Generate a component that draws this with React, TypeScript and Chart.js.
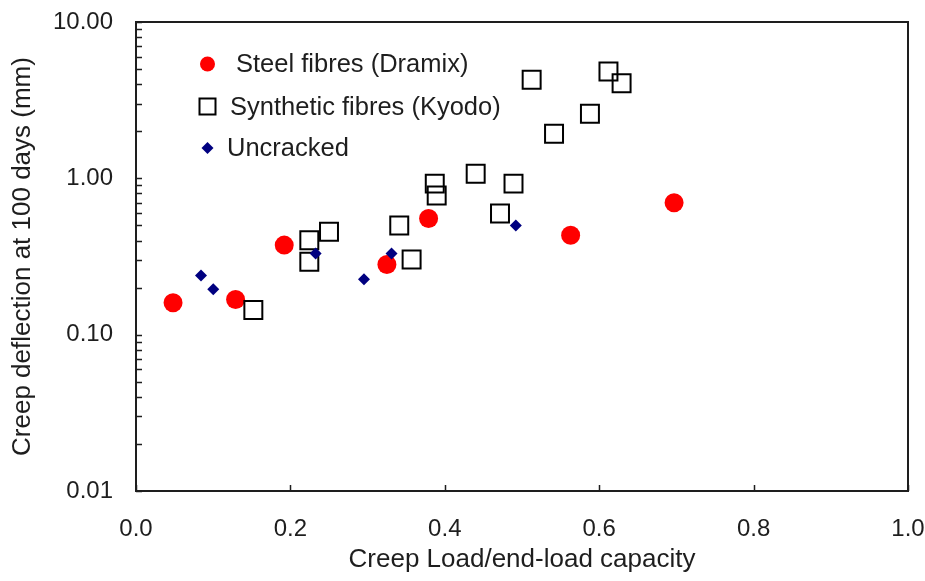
import React, { useEffect, useRef } from "react";
import { Chart, registerables } from "chart.js";

Chart.register(...registerables);

// ---- Data ----
const SERIES_NAMES = ["Steel fibres (Dramix)", "Synthetic fibres (Kyodo)", "Uncracked"];

const STEEL_X = [0.048, 0.129, 0.192, 0.325, 0.379, 0.563, 0.697];
const STEEL_Y = [0.16, 0.168, 0.374, 0.281, 0.553, 0.433, 0.697];

const SYN_X = [0.152, 0.2245, 0.2245, 0.25, 0.341, 0.357, 0.387, 0.3895, 0.44, 0.489, 0.4715, 0.5125, 0.5415, 0.588, 0.612, 0.629];
const SYN_Y = [0.144, 0.402, 0.293, 0.455, 0.499, 0.303, 0.925, 0.776, 1.07, 0.925, 0.595, 4.27, 1.93, 2.59, 4.82, 4.06];

const UNC_X = [0.0842, 0.1001, 0.2327, 0.2953, 0.331, 0.492];
const UNC_Y = [0.239, 0.195, 0.33, 0.226, 0.33, 0.499];

const Y_TICKS = [0.01, 0.1, 1, 10];
const X_TICKS = [0, 0.2, 0.4, 0.6, 0.8, 1.0];

const X_TITLE = "Creep Load/end-load capacity";
const Y_TITLE = "Creep deflection at 100 days (mm)";

const FONT = "'Liberation Sans', Arial, sans-serif";
const INK = "#1e1e1e";

const toPoints = (xs: number[], ys: number[]) => xs.map((x, i) => ({ x, y: ys[i] }));

const decorPlugin = {
  id: "decor",
  afterDraw(chart: any) {
    const { ctx, chartArea, scales } = chart;
    const { left, right, top, bottom } = chartArea;
    const xs = scales.x;
    const ys = scales.y;
    ctx.save();
    ctx.strokeStyle = INK;
    ctx.lineWidth = 2;
    ctx.strokeRect(left, top, right - left, bottom - top);

    // y ticks (major + minor, pointing inward)
    ctx.lineWidth = 1.5;
    ctx.beginPath();
    for (let d = 0; d < Y_TICKS.length - 1; d++) {
      for (let m = 1; m <= 10; m++) {
        const v = Y_TICKS[d] * m;
        const py = Math.round(ys.getPixelForValue(v)) + 0.5;
        ctx.moveTo(left, py);
        ctx.lineTo(left + 6, py);
      }
    }
    // x ticks
    for (const v of X_TICKS) {
      const px = Math.round(xs.getPixelForValue(v)) + 0.5;
      ctx.moveTo(px, bottom);
      ctx.lineTo(px, bottom - 6);
    }
    ctx.stroke();

    // legend
    const lx = 207.5;
    const rows = [64, 106.5, 148];
    const textX = [236, 230, 227];
    ctx.font = `25.5px ${FONT}`;
    ctx.textBaseline = "middle";
    ctx.textAlign = "left";
    // circle
    ctx.beginPath();
    ctx.fillStyle = "#ff0000";
    ctx.arc(lx, rows[0], 7.5, 0, Math.PI * 2);
    ctx.fill();
    // square
    ctx.strokeStyle = "#000000";
    ctx.lineWidth = 2;
    ctx.strokeRect(lx - 8, rows[1] - 8, 16, 16);
    // diamond
    ctx.beginPath();
    ctx.fillStyle = "#000080";
    ctx.moveTo(lx - 6, rows[2]);
    ctx.lineTo(lx, rows[2] - 6);
    ctx.lineTo(lx + 6, rows[2]);
    ctx.lineTo(lx, rows[2] + 6);
    ctx.closePath();
    ctx.fill();
    ctx.fillStyle = INK;
    SERIES_NAMES.forEach((n, i) => ctx.fillText(n, textX[i], rows[i] + 1));
    ctx.restore();
  },
};

export default function App() {
  const ref = useRef<HTMLCanvasElement | null>(null);
  useEffect(() => {
    if (!ref.current) return;
    const chart = new Chart(ref.current, {
      type: "scatter",
      data: {
        datasets: [
          {
            label: SERIES_NAMES[0],
            data: toPoints(STEEL_X, STEEL_Y),
            pointStyle: "circle",
            pointRadius: 9.5,
            pointHoverRadius: 9.5,
            backgroundColor: "#ff0000",
            borderColor: "#ff0000",
            borderWidth: 0,
            order: 2,
          },
          {
            label: SERIES_NAMES[1],
            data: toPoints(SYN_X, SYN_Y),
            pointStyle: "rect",
            pointRadius: 12.7,
            pointHoverRadius: 12.7,
            backgroundColor: "rgba(0,0,0,0)",
            borderColor: "#000000",
            borderWidth: 2,
            order: 1,
          },
          {
            label: SERIES_NAMES[2],
            data: toPoints(UNC_X, UNC_Y),
            pointStyle: "rectRot",
            pointRadius: 6,
            pointHoverRadius: 6,
            backgroundColor: "#000080",
            borderColor: "#000080",
            borderWidth: 0,
            order: 0,
          },
        ],
      },
      options: {
        animation: false,
        responsive: true,
        maintainAspectRatio: false,
        layout: { padding: { left: 0, right: 17, top: 22, bottom: 0 } },
        plugins: { legend: { display: false }, tooltip: { enabled: false } },
        scales: {
          x: {
            type: "linear",
            min: 0,
            max: 1,
            afterBuildTicks: (s: any) => {
              s.ticks = X_TICKS.map((v) => ({ value: v }));
            },
            afterFit: (s: any) => {
              s.height = 90;
              s.paddingLeft = 0;
              s.paddingRight = 0;
            },
            grid: { display: false, drawTicks: false },
            border: { display: false },
            ticks: {
              padding: 24,
              color: INK,
              font: { family: FONT, size: 24 },
              callback: (v: any) => Number(v).toFixed(1),
              maxRotation: 0,
            },
            title: {
              display: true,
              text: X_TITLE,
              color: INK,
              font: { family: FONT, size: 26 },
              padding: { top: 0, bottom: 6 },
            },
          },
          y: {
            type: "logarithmic",
            min: 0.01,
            max: 10,
            afterBuildTicks: (s: any) => {
              s.ticks = Y_TICKS.map((v) => ({ value: v }));
            },
            afterFit: (s: any) => {
              s.width = 136;
              s.paddingTop = 0;
              s.paddingBottom = 0;
            },
            grid: { display: false, drawTicks: false },
            border: { display: false },
            ticks: {
              padding: 23,
              color: INK,
              font: { family: FONT, size: 24 },
              callback: (v: any) => Number(v).toFixed(2),
            },
            title: {
              display: true,
              text: Y_TITLE,
              color: INK,
              font: { family: FONT, size: 26 },
              padding: { top: 7, bottom: 0 },
            },
          },
        },
      },
      plugins: [decorPlugin],
    });
    return () => chart.destroy();
  }, []);
  return (
    <div style={{ position: "fixed", left: 0, top: 0, width: 925, height: 581, background: "#fff" }}>
      <canvas ref={ref} />
    </div>
  );
}
